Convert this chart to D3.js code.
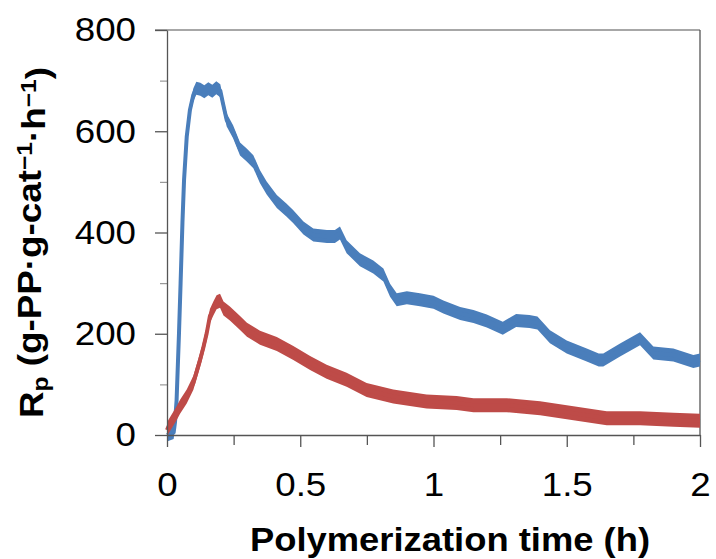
<!DOCTYPE html>
<html>
<head>
<meta charset="utf-8">
<script src="https://cdn.jsdelivr.net/npm/d3@7"></script>
<style>
  html, body { margin: 0; padding: 0; background: #fff; }
  svg { display: block; font-family: "Liberation Sans", Arial, sans-serif; }
</style>
</head>
<body>
<svg id="chart" width="716" height="559"></svg>
<script>
// ---- data ----
const seriesNames = ["Blue run", "Red run"];
const blueSeries = [
  [0.000, 0], [0.025, 5], [0.030, 25], [0.036, 69], [0.045, 201], [0.051, 300],
  [0.058, 420], [0.064, 504], [0.074, 589], [0.086, 642], [0.099, 672], [0.110, 685],
  [0.125, 683], [0.140, 678], [0.155, 684], [0.170, 679], [0.185, 686], [0.200, 680],
  [0.210, 655], [0.224, 622], [0.248, 599], [0.274, 565], [0.299, 553], [0.324, 540],
  [0.349, 510], [0.374, 488], [0.412, 461], [0.449, 444], [0.474, 431], [0.512, 409],
  [0.549, 395], [0.600, 392], [0.630, 392], [0.649, 399], [0.674, 372], [0.724, 346],
  [0.774, 332], [0.812, 316], [0.837, 286], [0.862, 267], [0.900, 271], [0.949, 267],
  [1.000, 262], [1.037, 253], [1.100, 240], [1.150, 234], [1.200, 225], [1.260, 211],
  [1.310, 226], [1.360, 224], [1.390, 221], [1.437, 194], [1.500, 174], [1.575, 158],
  [1.620, 148], [1.637, 148], [1.700, 168], [1.775, 190], [1.825, 162], [1.900, 158],
  [1.975, 145], [2.000, 148]
];
const redSeries = [
  [0.000, 10], [0.005, 16], [0.036, 43], [0.049, 56], [0.074, 76], [0.099, 103],
  [0.124, 148], [0.137, 174], [0.149, 201], [0.161, 235], [0.174, 250], [0.186, 262],
  [0.199, 265], [0.212, 250], [0.236, 240], [0.274, 221], [0.300, 208], [0.349, 192],
  [0.412, 180], [0.474, 162], [0.537, 142], [0.599, 125], [0.674, 109], [0.749, 89],
  [0.849, 76], [0.974, 66], [1.087, 63], [1.150, 59], [1.275, 59], [1.400, 53],
  [1.525, 43], [1.650, 33], [1.775, 33], [1.900, 30], [2.000, 28]
];
const xMajorTicks = [0, 0.5, 1, 1.5, 2];
const xMinorTicks = [0.25, 0.75, 1.25, 1.75];
const xTickLabels = ["0", "0.5", "1", "1.5", "2"];
const yMajorTicks = [0, 200, 400, 600, 800];
const yMinorTicks = [100, 300, 500, 700];
const yTickLabels = ["0", "200", "400", "600", "800"];
const xTitle = "Polymerization time (h)";

(function draw() {
  // ---- layout ----
  const pLeft = 167, pRight = 700, pTop = 30, pBottom = 435;
  const svg = d3.select("#chart");
  const x = d3.scaleLinear().domain([0, 2]).range([pLeft, pRight]);
  const y = d3.scaleLinear().domain([0, 800]).range([pBottom, pTop]);

  // frame (top & right)
  svg.append("line").attr("x1", pLeft - 12).attr("x2", pRight).attr("y1", pTop).attr("y2", pTop)
    .attr("stroke", "#8a8a8a").attr("stroke-width", 1.3);
  svg.append("line").attr("x1", pRight).attr("x2", pRight).attr("y1", pTop).attr("y2", pBottom)
    .attr("stroke", "#555").attr("stroke-width", 1.3);

  // series
  const colors = ["#4a7ebb", "#be4b48"];
  const halfBand = [6.5, 7];
  [blueSeries, redSeries].forEach((s, i) => {
    const area = d3.area()
      .x(d => x(d[0]))
      .y0(d => y(d[1]) + halfBand[i])
      .y1(d => y(d[1]) - halfBand[i]);
    svg.append("path").datum(s).attr("d", area).attr("fill", colors[i]);
    const line = d3.line().x(d => x(d[0])).y(d => y(d[1]));
    svg.append("path").datum(s).attr("d", line).attr("fill", "none")
      .attr("stroke", colors[i]).attr("stroke-width", 4).attr("stroke-linejoin", "round");
  });

  // axes
  const styleAxis = g => {
    g.selectAll(".domain").attr("stroke", "#555").attr("stroke-width", 1.3);
    g.selectAll(".tick line").attr("stroke", "#555").attr("stroke-width", 1.3);
    g.selectAll(".tick text").attr("fill", "#000")
      .style("font-size", "34px").style("font-family", "'Liberation Sans', Arial, sans-serif");
  };

  const yAxisMinor = svg.append("g").attr("transform", `translate(${pLeft},0)`)
    .call(d3.axisLeft(y).tickValues(yMinorTicks).tickSize(7).tickFormat(""));
  yAxisMinor.select(".domain").remove();
  yAxisMinor.selectAll(".tick line").attr("stroke", "#999").attr("stroke-width", 1.2);

  const yAxis = svg.append("g").attr("transform", `translate(${pLeft},0)`)
    .call(d3.axisLeft(y).tickValues(yMajorTicks).tickSize(12).tickSizeOuter(0)
      .tickPadding(19).tickFormat((d, i) => yTickLabels[i]));
  styleAxis(yAxis);
  yAxis.selectAll(".tick text").attr("x", -31 / 1.08).attr("transform", "scale(1.08,1)");

  const xAxisMinor = svg.append("g").attr("transform", `translate(0,${pBottom})`)
    .call(d3.axisBottom(x).tickValues(xMinorTicks).tickSize(10).tickFormat(""));
  xAxisMinor.select(".domain").remove();
  xAxisMinor.selectAll(".tick line").attr("stroke", "#555").attr("stroke-width", 1.3);

  const xAxis = svg.append("g").attr("transform", `translate(0,${pBottom})`)
    .call(d3.axisBottom(x).tickValues(xMajorTicks).tickSize(12).tickSizeOuter(0)
      .tickPadding(25).tickFormat((d, i) => xTickLabels[i]));
  styleAxis(xAxis);
  xAxis.selectAll(".tick text").attr("transform", "scale(1.08,1)");

  // x title
  svg.append("text").attr("x", 250).attr("y", 551)
    .attr("textLength", 400).attr("lengthAdjust", "spacingAndGlyphs")
    .style("font-size", "33px").style("font-weight", "bold").attr("fill", "#000")
    .text(xTitle);

  // y title (rotated)
  const yt = svg.append("text")
    .attr("transform", "translate(43,418) rotate(-90)")
    .attr("x", 0).attr("y", 0)
    .attr("textLength", 351).attr("lengthAdjust", "spacingAndGlyphs")
    .style("font-size", "33px").style("font-weight", "bold").attr("fill", "#000");
  yt.append("tspan").text("R");
  yt.append("tspan").attr("dy", "0.22em").style("font-size", "22px").text("p");
  yt.append("tspan").attr("dy", "-0.22em").text(" (g-PP·g-cat");
  yt.append("tspan").attr("dy", "-0.4em").style("font-size", "22px").text("−1");
  yt.append("tspan").attr("dy", "0.4em").text("·h");
  yt.append("tspan").attr("dy", "-0.4em").style("font-size", "22px").text("−1");
  yt.append("tspan").attr("dy", "0.4em").text(")");
})();
</script>
</body>
</html>
